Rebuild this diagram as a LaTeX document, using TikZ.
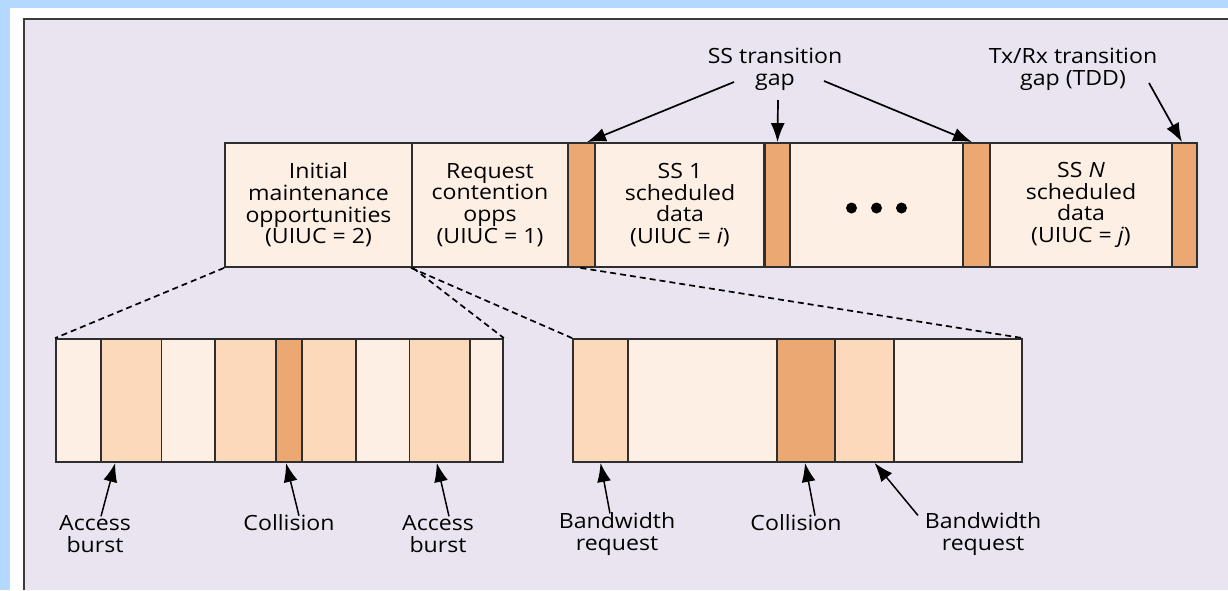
\documentclass[tikz,border=0pt]{standalone}
\usepackage{fontspec}
\setmainfont{Open Sans}[FakeStretch=1.1]
\usetikzlibrary{arrows.meta}
\definecolor{bgblue}{HTML}{B5D9FE}
\definecolor{lav}{HTML}{EAE4F0}
\definecolor{lightc}{HTML}{FDEFE4}
\definecolor{medc}{HTML}{FBD9BA}
\definecolor{darkc}{HTML}{ECA873}
\definecolor{linec}{HTML}{2E2E2E}
\definecolor{framec}{HTML}{3A3A3A}
\begin{document}
\begin{tikzpicture}[x=1pt,y=-1pt,
  font=\fontsize{21}{21.7}\selectfont,
  cell/.style={draw=linec, line width=1.8pt, inner sep=0pt, minimum height=124pt, align=center},
  bcell/.style={draw=linec, line width=1.8pt, inner sep=0pt, minimum height=123pt},
  lab/.style={align=center, inner sep=2pt, text=black},
  arr/.style={-{Latex[length=19pt,width=14pt]}, line width=1.7pt, draw=black},
  sarr/.style={-{Latex[length=19pt,width=14pt]}, line width=1.5pt, draw=black},
  dsh/.style={line width=1.7pt, dash pattern=on 6pt off 4pt, draw=black}]
\useasboundingbox (0,0) rectangle (1228,590);
% background and frame
\fill[bgblue] (0,0) rectangle (1228,590);
\fill[white] (10,8) rectangle (1228,590);
\fill[lav] (24,19) rectangle (1228,590);
\draw[framec, line width=2.4pt] (24,590) -- (24,19) -- (1228,19);

% top bar
\node[cell, fill=lightc, minimum width=187pt] (c1) at (318.5,205) {Initial\\maintenance\\opportunities\\(UIUC = 2)};
\node[cell, fill=lightc, minimum width=156pt] (c2) at (490,205) {Request\\contention\\opps\\(UIUC = 1)};
\node[cell, fill=darkc, minimum width=27pt] (g1) at (581.5,205) {};
\node[cell, fill=lightc, minimum width=170pt] (c3) at (680,205) {SS 1\\scheduled\\data\\(UIUC = \textit{i})};
\node[cell, fill=darkc, minimum width=25pt] (g2) at (777.5,205) {};
\node[cell, fill=lightc, minimum width=173pt] (c4) at (876.5,205) {};
\node[cell, fill=darkc, minimum width=27pt] (g3) at (976.5,205) {};
\node[cell, fill=lightc, minimum width=182pt] (c5) at (1081,205) {SS \textit{N}\\scheduled\\data\\(UIUC = \textit{j})};
\node[cell, fill=darkc, minimum width=25pt] (g4) at (1184.5,205) {};
\draw[linec, line width=3pt] (g2.north west) -- (g2.south west);
\fill (c4.center) ++(-25,3) circle (5.5pt);
\fill (c4.center) ++(0,3) circle (5.5pt);
\fill (c4.center) ++(25,3) circle (5.5pt);

% top labels
\node[lab] (sst) at (775,69) {SS transition\\gap};
\node[lab] (txrx) at (1073,69) {Tx/Rx transition\\gap (TDD)};
\draw[arr] ([xshift=-41pt,yshift=-13pt]sst.center) -- ([xshift=5.5pt]g1.north);
\draw[arr] ([xshift=3pt,yshift=-31pt]sst.center) -- (g2.north);
\draw[arr] ([xshift=49pt,yshift=-12pt]sst.center) -- ([xshift=-4.5pt]g3.north);
\draw[arr] ([xshift=76pt,yshift=-14pt]txrx.center) -- ([xshift=-2.5pt]g4.north);

% bottom left bar
\node[bcell, fill=lightc, minimum width=45pt]   (l1) at (78.5,400.5) {};
\node[bcell, fill=medc,   minimum width=60.5pt] (l2) at (131.25,400.5) {};
\node[bcell, fill=lightc, minimum width=53.5pt] (l3) at (188.25,400.5) {};
\node[bcell, fill=medc,   minimum width=61pt]   (l4) at (245.5,400.5) {};
\node[bcell, fill=darkc,  minimum width=26pt]   (l5) at (289,400.5) {};
\node[bcell, fill=medc,   minimum width=54pt]   (l6) at (329,400.5) {};
\node[bcell, fill=lightc, minimum width=53.5pt] (l7) at (382.75,400.5) {};
\node[bcell, fill=medc,   minimum width=60.5pt] (l8) at (439.75,400.5) {};
\node[bcell, fill=lightc, minimum width=33pt]   (l9) at (486.5,400.5) {};

% bottom right bar
\node[bcell, fill=medc,   minimum width=55pt]  (r1) at (600.5,400.5) {};
\node[bcell, fill=lightc, minimum width=149pt] (r2) at (702.5,400.5) {};
\node[bcell, fill=darkc,  minimum width=58pt]  (r3) at (806,400.5) {};
\node[bcell, fill=medc,   minimum width=59pt]  (r4) at (864.5,400.5) {};
\node[bcell, fill=lightc, minimum width=128pt] (r5) at (958,400.5) {};

% dashed expansion lines
\draw[dsh] (c1.south west) -- (l1.north west);
\draw[dsh] (c1.south east) -- (l9.north east);
\draw[dsh] (c2.south west) -- (r1.north west);
\draw[dsh] ([xshift=-1pt]g1.south) -- (r5.north east);

% bottom labels
\node[lab] (ab1) at (95,534) {Access\\burst};
\node[lab] (co1) at (289,523) {Collision};
\node[lab] (ab2) at (438,534) {Access\\burst};
\node[lab] (bw1) at (617,534) {Bandwidth\\request};
\node[lab] (co2) at (796,523) {Collision};
\node[lab] (bw2) at (983,534) {Bandwidth\\request};
\draw[sarr] ([xshift=6pt,yshift=-3pt]ab1.north) -- ([xshift=-16pt]l2.south);
\draw[sarr] ([xshift=10pt,yshift=-3pt]co1.north) -- ([xshift=-3pt]l5.south);
\draw[sarr] ([xshift=11pt,yshift=-3pt]ab2.north) -- ([xshift=-3pt]l8.south);
\draw[sarr] ([xshift=-7pt,yshift=-3pt]bw1.north) -- (r1.south);
\draw[sarr] ([xshift=19pt,yshift=-3pt]co2.north) -- ([xshift=-1pt]r3.south);
\draw[sarr] ([xshift=-65pt,yshift=-5pt]bw2.north) -- ([xshift=10pt]r4.south);
\end{tikzpicture}
\end{document}
